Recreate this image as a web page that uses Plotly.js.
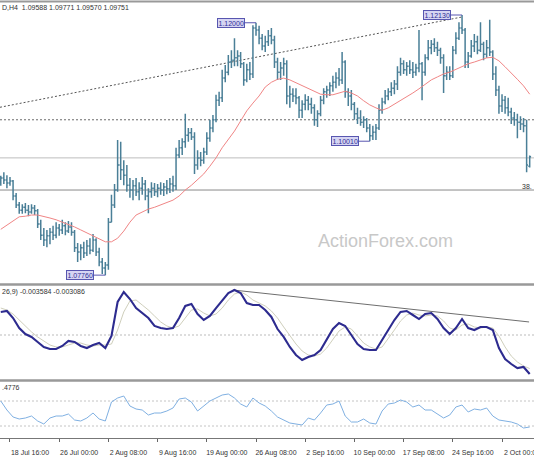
<!DOCTYPE html>
<html>
<head>
<meta charset="utf-8">
<script src="https://cdn.plot.ly/plotly-3.0.1.min.js"></script>
<style>
  html, body { margin: 0; padding: 0; background: #fff; }
  #chart { width: 534px; height: 462px; }
</style>
</head>
<body>
<div id="chart"></div>
<script>
/* PRICE BARS, one drawn bar per 2 H4 bars */
// bar index 0 = 18 Jul 16:00
const firstBar = -6;
const barStep = 2;

const barOpen = [
  1.0932,1.0939,1.0936,1.0931,1.0934,1.0909,1.0894,1.0885,1.0890,1.0885,
  1.0882,1.0889,1.0884,1.0862,1.0843,1.0835,1.0842,1.0848,1.0843,1.0855,
  1.0852,1.0859,1.0850,1.0857,1.0848,1.0822,1.0815,1.0822,1.0813,1.0825,
  1.0818,1.0835,1.0815,1.0798,1.0788,1.0793,1.0865,1.0894,1.0919,1.0961,
  1.0953,1.0944,1.0927,1.0919,1.0926,1.0916,1.0922,1.0929,1.0909,1.0916,
  1.0922,1.0916,1.0922,1.0919,1.0924,1.0921,1.0929,1.0926,1.0978,1.0990,
  1.1000,1.1011,1.1015,1.1008,1.0961,1.0973,1.0969,1.0983,1.1006,1.1023,
  1.1037,1.1070,1.1074,1.1107,1.1117,1.1134,1.1137,1.1141,1.1144,1.1131,
  1.1104,1.1121,1.1114,1.1191,1.1188,1.1174,1.1161,1.1168,1.1178,1.1171,
  1.1134,1.1117,1.1124,1.1131,1.1077,1.1080,1.1077,1.1074,1.1053,1.1063,
  1.1070,1.1063,1.1057,1.1037,1.1047,1.1070,1.1084,1.1087,1.1094,1.1100,
  1.1107,1.1104,1.1134,1.1084,1.1077,1.1063,1.1047,1.1040,1.1033,1.1037,
  1.1023,1.1010,1.1016,1.1023,1.1053,1.1067,1.1077,1.1084,1.1090,1.1097,
  1.1117,1.1131,1.1121,1.1127,1.1121,1.1117,1.1124,1.1131,1.1117,1.1141,
  1.1158,1.1164,1.1158,1.1154,1.1141,1.1111,1.1117,1.1111,1.1154,1.1174,
  1.1191,1.1188,1.1134,1.1144,1.1161,1.1168,1.1154,1.1164,1.1147,1.1158,
  1.1151,1.1114,1.1087,1.1060,1.1070,1.1057,1.1050,1.1040,1.1037,1.1033,
  1.1030,1.1027,1.09588
];
const barHigh = [
  1.0943,1.0949,1.0944,1.0941,1.0936,1.0914,1.0899,1.0895,1.0897,1.0894,
  1.0895,1.0894,1.0887,1.0869,1.0855,1.0852,1.0855,1.0859,1.0865,1.0862,
  1.0869,1.0865,1.0867,1.0865,1.0852,1.0830,1.0828,1.0832,1.0835,1.0838,
  1.0845,1.0838,1.0822,1.0805,1.0798,1.0872,1.0911,1.0929,1.1003,1.1000,
  1.0969,1.0961,1.0939,1.0936,1.0939,1.0932,1.0941,1.0936,1.0922,1.0932,
  1.0931,1.0929,1.0932,1.0931,1.0936,1.0939,1.0943,1.0990,1.1003,1.1006,
  1.1047,1.1023,1.1023,1.1016,1.0986,1.0983,1.0990,1.1016,1.1037,1.1045,
  1.1079,1.1084,1.1121,1.1129,1.1146,1.1154,1.1174,1.1154,1.1151,1.1134,
  1.1131,1.1134,1.1196,1.1200,1.1195,1.1181,1.1178,1.1188,1.1191,1.1178,
  1.1141,1.1134,1.1141,1.1137,1.1094,1.1090,1.1090,1.1077,1.1070,1.1080,
  1.1077,1.1074,1.1063,1.1053,1.1077,1.1090,1.1094,1.1100,1.1111,1.1117,
  1.1124,1.1151,1.1137,1.1090,1.1087,1.1067,1.1057,1.1053,1.1043,1.1040,
  1.1030,1.1027,1.1030,1.1063,1.1074,1.1087,1.1090,1.1100,1.1104,1.1127,
  1.1141,1.1137,1.1134,1.1137,1.1134,1.1131,1.1188,1.1134,1.1147,1.1171,
  1.1171,1.1174,1.1168,1.1158,1.1147,1.1127,1.1127,1.1161,1.1184,1.1201,
  1.1213,1.1191,1.1151,1.1171,1.1181,1.1178,1.1201,1.1168,1.1171,1.1205,
  1.1154,1.1127,1.1094,1.1080,1.1077,1.1074,1.1057,1.1050,1.1047,1.1043,
  1.1040,1.1037,1.09771
];
const barLow = [
  1.0926,1.0929,1.0922,1.0926,1.0902,1.0889,1.0879,1.0879,1.0880,1.0875,
  1.0879,1.0877,1.0855,1.0835,1.0825,1.0823,1.0828,1.0835,1.0838,1.0842,
  1.0845,1.0843,1.0847,1.0842,1.0815,1.0798,1.0801,1.0805,1.0808,1.0811,
  1.0815,1.0808,1.0791,1.0778,1.0776,1.0785,1.0865,1.0889,1.0916,1.0936,
  1.0927,1.0916,1.0906,1.0902,1.0909,1.0902,1.0911,1.0902,1.0880,1.0906,
  1.0909,1.0907,1.0911,1.0909,1.0912,1.0914,1.0916,1.0919,1.0973,1.0978,
  1.0990,1.1000,1.1003,1.0946,1.0953,1.0959,1.0963,1.0978,1.1000,1.1016,
  1.1033,1.1060,1.1067,1.1100,1.1112,1.1124,1.1127,1.1127,1.1124,1.1094,
  1.1100,1.1104,1.1107,1.1178,1.1164,1.1154,1.1151,1.1161,1.1164,1.1124,
  1.1104,1.1104,1.1111,1.1063,1.1057,1.1067,1.1063,1.1040,1.1040,1.1053,
  1.1053,1.1047,1.1027,1.1025,1.1043,1.1063,1.1074,1.1077,1.1084,1.1090,
  1.1094,1.1097,1.1074,1.1060,1.1053,1.1037,1.1030,1.1027,1.1023,1.1016,
  1.1001,1.1003,1.1003,1.1020,1.1047,1.1063,1.1070,1.1077,1.1080,1.1087,
  1.1111,1.1114,1.1111,1.1114,1.1107,1.1111,1.1117,1.1070,1.1111,1.1137,
  1.1147,1.1151,1.1144,1.1131,1.1082,1.1104,1.1104,1.1107,1.1147,1.1171,
  1.1181,1.1124,1.1124,1.1141,1.1151,1.1147,1.1151,1.1137,1.1141,1.1144,
  1.1104,1.1077,1.1047,1.1050,1.1047,1.1043,1.1030,1.1027,1.1006,1.1020,
  1.1016,1.0949,1.09570
];
const barClose = [
  1.0939,1.0936,1.0931,1.0934,1.0909,1.0894,1.0885,1.0890,1.0885,1.0882,
  1.0889,1.0884,1.0862,1.0843,1.0835,1.0842,1.0848,1.0843,1.0855,1.0852,
  1.0859,1.0850,1.0857,1.0848,1.0822,1.0815,1.0822,1.0813,1.0825,1.0818,
  1.0835,1.0815,1.0798,1.0788,1.0793,1.0865,1.0894,1.0919,1.0961,1.0953,
  1.0944,1.0927,1.0919,1.0926,1.0916,1.0922,1.0929,1.0909,1.0916,1.0922,
  1.0916,1.0922,1.0919,1.0924,1.0921,1.0929,1.0926,1.0978,1.0990,1.1000,
  1.1011,1.1015,1.1008,1.0961,1.0973,1.0969,1.0983,1.1006,1.1023,1.1037,
  1.1070,1.1074,1.1107,1.1117,1.1134,1.1137,1.1141,1.1144,1.1131,1.1104,
  1.1121,1.1114,1.1191,1.1188,1.1174,1.1161,1.1168,1.1178,1.1171,1.1134,
  1.1117,1.1124,1.1131,1.1077,1.1080,1.1077,1.1074,1.1053,1.1063,1.1070,
  1.1063,1.1057,1.1037,1.1047,1.1070,1.1084,1.1087,1.1094,1.1100,1.1107,
  1.1104,1.1134,1.1084,1.1077,1.1063,1.1047,1.1040,1.1033,1.1037,1.1023,
  1.1010,1.1016,1.1023,1.1053,1.1067,1.1077,1.1084,1.1090,1.1097,1.1117,
  1.1131,1.1121,1.1127,1.1121,1.1117,1.1124,1.1131,1.1117,1.1141,1.1158,
  1.1164,1.1158,1.1154,1.1141,1.1111,1.1117,1.1111,1.1154,1.1174,1.1191,
  1.1188,1.1134,1.1144,1.1161,1.1168,1.1154,1.1164,1.1147,1.1158,1.1151,
  1.1114,1.1087,1.1060,1.1070,1.1057,1.1050,1.1040,1.1037,1.1033,1.1030,
  1.1027,1.0961,1.09751
];

/* INDICATORS - one point every 4 H4 bars */
const indStep = 4;
// moving average (red)
const maValues = [
  1.0853,1.0860,1.0867,1.0874,1.0875,1.0877,1.0877,1.0875,1.0872,1.0869,
  1.0865,1.0862,1.0857,1.0852,1.0847,1.0842,1.0837,1.0832,1.0832,1.0838,
  1.0850,1.0865,1.0877,1.0882,1.0887,1.0890,1.0894,1.0897,1.0902,1.0909,
  1.0919,1.0927,1.0937,1.0946,1.0959,1.0973,1.0990,1.1003,1.1018,1.1035,
  1.1052,1.1065,1.1077,1.1092,1.1100,1.1105,1.1107,1.1104,1.1099,1.1094,
  1.1089,1.1084,1.1080,1.1079,1.1079,1.1082,1.1085,1.1082,1.1077,1.1069,
  1.1062,1.1057,1.1053,1.1057,1.1063,1.1070,1.1075,1.1082,1.1089,1.1097,
  1.1104,1.1109,1.1114,1.1117,1.1122,1.1127,1.1131,1.1134,1.1137,1.1141,
  1.1142,1.1136,1.1126,1.1116,1.1105,1.1094,1.1080
];
// MACD(12,26,9) main and signal
const macdMain = [
  0.00212,0.00221,0.00156,0.00064,0.00009,-0.00018,-0.00064,-0.00110,-0.00129,-0.00129,
  -0.00101,-0.00055,-0.00064,-0.00101,-0.00120,-0.00092,-0.00074,-0.00120,-0.00009,0.00304,
  0.00396,0.00331,0.00248,0.00202,0.00156,0.00083,0.00064,0.00055,0.00064,0.00156,
  0.00267,0.00285,0.00193,0.00138,0.00175,0.00248,0.00322,0.00386,0.00414,0.00386,
  0.00294,0.00276,0.00276,0.00230,0.00166,0.00055,-0.00018,-0.00110,-0.00184,-0.00230,
  -0.00202,-0.00184,-0.00138,-0.00037,0.00055,0.00110,0.00083,0.00000,-0.00083,-0.00129,
  -0.00138,-0.00138,-0.00046,0.00055,0.00138,0.00212,0.00221,0.00184,0.00147,0.00193,
  0.00202,0.00147,0.00064,0.00009,0.00064,0.00147,0.00064,0.00046,0.00074,0.00074,
  0.00046,-0.00120,-0.00221,-0.00267,-0.00304,-0.00294,-0.003584
];
const macdSignal = [
  0.00248,0.00230,0.00193,0.00138,0.00074,0.00028,-0.00018,-0.00055,-0.00092,-0.00110,
  -0.00110,-0.00092,-0.00074,-0.00074,-0.00092,-0.00101,-0.00092,-0.00092,-0.00083,0.00046,
  0.00212,0.00313,0.00322,0.00276,0.00230,0.00175,0.00120,0.00083,0.00064,0.00083,
  0.00156,0.00230,0.00239,0.00202,0.00175,0.00193,0.00248,0.00322,0.00377,0.00396,
  0.00368,0.00322,0.00294,0.00267,0.00221,0.00156,0.00074,-0.00009,-0.00083,-0.00147,
  -0.00184,-0.00193,-0.00175,-0.00120,-0.00037,0.00037,0.00074,0.00055,-0.00009,-0.00074,
  -0.00110,-0.00129,-0.00110,-0.00037,0.00046,0.00129,0.00184,0.00202,0.00184,0.00175,
  0.00184,0.00175,0.00129,0.00064,0.00046,0.00092,0.00101,0.00074,0.00064,0.00074,
  0.00064,-0.00009,-0.00110,-0.00193,-0.00248,-0.00285,-0.003086
];
// RSI
const rsiValues = [
  70.0,55.6,44.4,41.2,42.8,46.0,38.0,33.2,42.8,46.0,
  46.0,49.2,39.6,38.0,42.8,50.8,41.2,38.0,68.4,74.8,
  78.0,62.0,57.2,55.6,47.6,50.8,50.8,54.0,58.8,73.2,
  74.8,68.4,54.0,62.0,70.0,74.8,79.6,81.2,74.8,65.2,
  60.4,74.8,66.8,62.0,54.0,44.4,39.6,34.8,33.2,31.6,
  42.8,39.6,50.8,63.6,65.2,70.0,46.0,36.4,36.4,41.2,
  34.8,33.2,54.0,65.2,66.8,71.6,68.4,60.4,63.6,55.6,
  55.6,49.2,42.8,47.6,60.4,63.6,52.4,57.2,55.6,58.8,
  46.0,39.6,38.0,36.4,33.2,26.8,28.4
];

/* TIME AXIS */
const tickBars = [0, 32, 64, 96, 128, 160, 192, 224, 256, 288, 320];
const tickLabels = ['18 Jul 16:00', '26 Jul 00:00', '2 Aug 08:00', '9 Aug 16:00',
  '19 Aug 00:00', '26 Aug 08:00', '2 Sep 16:00', '10 Sep 00:00', '17 Sep 08:00',
  '24 Sep 16:00', '2 Oct 00:00'];

/* DRAWN OBJECTS */
const priceLevels = [1.1037, 1.0973, 1.0919];
const trendBars = [-6.5, 294.6];
const trendPrices = [1.1058, 1.1210];
const macdTrendBars = [145, 337.6];
const macdTrendValues = [0.00414, 0.00120];
const rsiLevels = [70, 30];
const swingBars = [62, 160, 234, 294];
const swingPrices = [1.0776, 1.1200, 1.1001, 1.1213];
const swingLabels = ['1.07760', '1.12000', '1.10010', '1.12130'];

// x positions from bar index
const barX = barOpen.map((v, i) => firstBar + i * barStep);
const indX = maValues.map((v, i) => firstBar + i * indStep);

// helper: paper y from a pixel row of the 462px picture
function py(px) {
  return 1 - px / 462;
}

const barColor = '#4a7f97';

var traces = [
  {
    type: 'ohlc', x: barX, open: barOpen, high: barHigh, low: barLow, close: barClose,
    xaxis: 'x', yaxis: 'y', tickwidth: 0.45, hoverinfo: 'skip',
    increasing: {line: {color: barColor, width: 1.5}},
    decreasing: {line: {color: barColor, width: 1.5}}
  },
  {
    type: 'scatter', mode: 'lines', x: indX, y: maValues, xaxis: 'x', yaxis: 'y',
    line: {color: '#f08585', width: 1}, hoverinfo: 'skip'
  },
  {
    type: 'scatter', mode: 'lines', x: indX, y: macdSignal, xaxis: 'x', yaxis: 'y2',
    line: {color: '#cfcfbc', width: 1}, hoverinfo: 'skip'
  },
  {
    type: 'scatter', mode: 'lines', x: indX, y: macdMain, xaxis: 'x', yaxis: 'y2',
    line: {color: '#2d2b8f', width: 2.1}, hoverinfo: 'skip'
  },
  {
    type: 'scatter', mode: 'lines', x: indX, y: rsiValues, xaxis: 'x', yaxis: 'y3',
    line: {color: '#7fb0e2', width: 1}, hoverinfo: 'skip'
  }
];

// level and trend lines
var levelStyles = [
  {color: '#6a6a6a', width: 1, dash: '2px,2px'},
  {color: '#bdbdbd', width: 1, dash: 'solid'},
  {color: '#8a8a8a', width: 1, dash: 'solid'}
];
var shapes = [];
priceLevels.forEach((p, i) => shapes.push({
  type: 'line', layer: 'below', xref: 'paper', x0: 0, x1: 1, yref: 'y', y0: p, y1: p,
  line: levelStyles[i]
}));
shapes.push({
  type: 'line', layer: 'below', xref: 'x', yref: 'y',
  x0: trendBars[0], x1: trendBars[1], y0: trendPrices[0], y1: trendPrices[1],
  line: {color: '#555', width: 1, dash: '2px,2px'}
});
shapes.push({
  type: 'line', layer: 'below', xref: 'paper', x0: 0, x1: 1, yref: 'y2', y0: 0, y1: 0,
  line: {color: '#bbb', width: 1, dash: '2px,2px'}
});
shapes.push({
  type: 'line', layer: 'below', xref: 'x', yref: 'y2',
  x0: macdTrendBars[0], x1: macdTrendBars[1], y0: macdTrendValues[0], y1: macdTrendValues[1],
  line: {color: '#6e6e6e', width: 1}
});
rsiLevels.forEach(v => shapes.push({
  type: 'line', layer: 'below', xref: 'paper', x0: 0, x1: 1, yref: 'y3', y0: v, y1: v,
  line: {color: '#c4c4c4', width: 1, dash: '2px,2px'}
}));
// window frame and panel separators
[1.5, 284.5, 380.5].forEach(px => shapes.push({
  type: 'line', xref: 'paper', yref: 'paper', x0: 0, x1: 1, y0: py(px), y1: py(px),
  line: {color: '#999', width: px < 5 ? 2 : 2.5}
}));

var smallFont = {family: 'Liberation Sans, Arial, sans-serif', size: 7, color: '#333'};
var annotations = [
  {xref: 'paper', yref: 'paper', x: 0, y: py(8), xanchor: 'left', yanchor: 'middle',
   showarrow: false, text: 'D,H4  1.09588 1.09771 1.09570 1.09751', font: smallFont},
  {xref: 'paper', yref: 'paper', x: 0, y: py(292), xanchor: 'left', yanchor: 'middle',
   showarrow: false, text: '26,9) -0.003584 -0.003086', font: smallFont},
  {xref: 'paper', yref: 'paper', x: 0, y: py(387), xanchor: 'left', yanchor: 'middle',
   showarrow: false, text: '.4776', font: smallFont},
  {xref: 'paper', yref: 'paper', x: 1, y: py(186), xanchor: 'right', yanchor: 'middle',
   showarrow: false, text: '38.', font: smallFont},
  {xref: 'paper', yref: 'paper', x: 385 / 534, y: py(241), xanchor: 'center', yanchor: 'middle',
   showarrow: false, text: 'ActionForex.com',
   font: {family: 'Liberation Sans, Arial, sans-serif', size: 18, color: '#c8c8c8'}}
];
swingPrices.forEach((p, i) => annotations.push({
  xref: 'x', yref: 'y', x: swingBars[i], y: p, text: swingLabels[i],
  showarrow: true, arrowhead: 0, arrowwidth: 1, arrowcolor: '#5856b0',
  ax: -25, ay: 0, bgcolor: '#d6d5f3', bordercolor: '#5856b0', borderwidth: 1, borderpad: 0.5,
  font: {family: 'Liberation Sans, Arial, sans-serif', size: 7, color: '#2f2d96'}
}));

var hiddenY = {visible: false, showgrid: false, zeroline: false, fixedrange: true};

var layout = {
  width: 534,
  height: 462,
  margin: {l: 0, r: 0, t: 0, b: 0},
  paper_bgcolor: '#fff',
  plot_bgcolor: '#fff',
  showlegend: false,
  font: smallFont,
  xaxis: {
    range: [-6.5, 340.8], anchor: 'y3', tickvals: tickBars, ticktext: tickLabels,
    ticks: 'outside', ticklen: 3, tickcolor: '#666', showline: true, linecolor: '#777',
    linewidth: 1, showgrid: false, zeroline: false, rangeslider: {visible: false},
    ticklabelshift: 20, ticklabelstandoff: 5, ticklabeloverflow: 'allow',
    tickfont: smallFont, fixedrange: true
  },
  yaxis: Object.assign({domain: [py(283), py(4)], range: [1.07628, 1.12315]}, hiddenY),
  yaxis2: Object.assign({domain: [py(379), py(286)], range: [-0.004048, 0.004508]}, hiddenY),
  yaxis3: Object.assign({domain: [py(438), py(382)], range: [10.8, 100.4]}, hiddenY),
  shapes: shapes,
  annotations: annotations
};

Plotly.newPlot('chart', traces, layout, {staticPlot: true, displayModeBar: false});
</script>
</body>
</html>
